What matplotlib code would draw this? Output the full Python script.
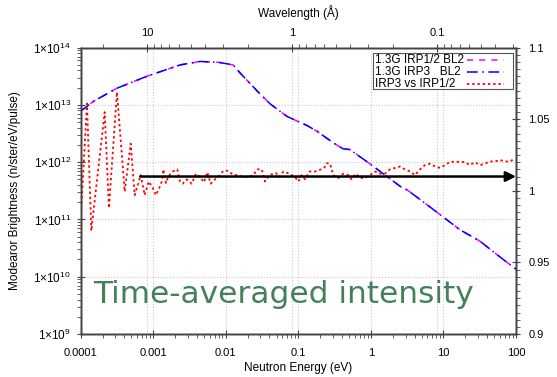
import numpy as np
import matplotlib
matplotlib.use("Agg")
import matplotlib.pyplot as plt
from matplotlib.lines import Line2D
from matplotlib.patches import Rectangle
from matplotlib.ticker import (FixedLocator, LogLocator, MultipleLocator,
                               FuncFormatter, NullFormatter)

plt.rcParams["font.family"] = ["Liberation Sans", "DejaVu Sans"]
plt.rcParams["mathtext.fontset"] = "custom"
plt.rcParams["mathtext.rm"] = "Liberation Sans"
plt.rcParams["mathtext.it"] = "Liberation Sans:italic"

# moderator brightness vs neutron energy (both configs overlap on log scale)
bright_energy = [1.00e-4, 1.49e-4, 3.13e-4, 8.13e-4, 2.34e-3, 4.41e-3, 7.94e-3,
                 1.26e-2, 1.57e-2, 2.77e-2, 4.06e-2, 6.97e-2, 0.132, 0.181,
                 0.301, 0.412, 0.515, 0.883, 1.67, 2.52, 3.12, 4.75, 8.95,
                 16.9, 31.9, 54.2, 100]
bright_irp12 = [7.8e12, 1.15e13, 1.95e13, 3.16e13, 5.0e13, 5.75e13, 5.56e13,
                5.0e13, 3.63e13, 1.70e13, 1.05e13, 6.31e12, 4.37e12, 3.47e12,
                2.19e12, 1.72e12, 1.66e12, 1.02e12, 5.62e11, 3.80e11, 3.31e11,
                2.24e11, 1.22e11, 6.61e10, 4.17e10, 2.45e10, 1.35e10]
bright_irp3 = list(bright_irp12)

# ratio IRP3 / IRP1/2
ratio_energy = [1.00e-4, 1.22e-4, 1.40e-4, 2.14e-4, 2.45e-4, 3.16e-4, 4.04e-4,
                4.89e-4, 5.55e-4, 6.71e-4, 7.62e-4, 8.65e-4, 9.82e-4, 1.09e-3,
                1.21e-3, 1.31e-3, 1.38e-3, 1.50e-3, 1.61e-3, 1.85e-3, 2.14e-3,
                2.34e-3, 2.55e-3, 2.89e-3, 3.39e-3, 3.88e-3, 4.41e-3, 5.01e-3,
                5.56e-3, 6.19e-3, 7.10e-3, 8.32e-3, 9.24e-3, 1.08e-2, 1.27e-2,
                1.49e-2, 1.74e-2, 2.04e-2, 2.39e-2, 2.72e-2, 3.13e-2, 3.47e-2,
                3.98e-2, 4.92e-2, 5.46e-2, 6.21e-2, 7.50e-2, 8.99e-2, 9.98e-2,
                0.111, 0.124, 0.142, 0.170, 0.199, 0.226, 0.246, 0.273, 0.303,
                0.356, 0.417, 0.488, 0.543, 0.623, 0.708, 0.830, 0.972, 1.14,
                1.33, 1.56, 1.83, 2.15, 2.52, 2.95, 3.46, 4.05, 4.75, 5.57,
                6.53, 7.65, 8.96, 10.5, 12.6, 14.4, 16.9, 19.8, 23.2, 27.2,
                31.9, 37.4, 43.8, 51.4, 60.2, 70.6, 82.7, 91.9]
ratio_values = [0.980, 1.061, 0.972, 1.055, 0.988, 1.069, 0.9995,
                1.033, 0.997, 1.011, 0.997, 1.0065, 1.002, 0.997,
                1.002, 1.0065, 1.015, 1.0054, 1.010, 1.0135, 1.015,
                1.0065, 1.005, 1.008, 1.005, 1.012, 1.0096, 1.006,
                1.013, 1.005, 1.008, 1.011, 1.014, 1.014, 1.011,
                1.011, 1.0096, 1.0096, 1.011, 1.015, 1.015, 1.0065,
                1.011, 1.0124, 1.0096, 1.0135, 1.012, 1.0096, 1.0065,
                1.011, 1.008, 1.0135, 1.0135, 1.0147, 1.0158, 1.0193, 1.019, 1.011,
                1.009, 1.012, 1.011, 1.008, 1.012, 1.009, 1.009, 1.011, 1.0135,
                1.012, 1.012, 1.015, 1.016, 1.017, 1.015, 1.0135, 1.011, 1.015, 1.018,
                1.019, 1.017, 1.016, 1.018, 1.0205, 1.020, 1.0205, 1.020, 1.018, 1.020,
                1.018, 1.019, 1.0205, 1.0205, 1.0216, 1.0205, 1.0205, 1.022]

arrow_start = 6.6e-4
arrow_end = 100
arrow_level = 1.01

wavelength_ticks = [10, 1, 0.1]
e_min, e_max = 1e-4, 100

legend_labels = ["1.3G IRP1/2 BL2", "1.3G IRP3   BL2", "IRP3 vs IRP1/2"]
line_colors = ["#ff00ff", "#0000ff", "#ff0000"]
line_styles = [(0, (4, 4)), (0, (7, 3, 1, 3)), (0, (1.3, 1.6))]
line_widths = [1.1, 1.1, 1.3]


def energy_to_wavelength(e):
    return 0.286 / np.sqrt(e)


def style_axis(a):
    for s in a.spines.values():
        s.set_color("#444444")
        s.set_linewidth(1.0)
    a.tick_params(which="major", direction="inout", length=6, width=0.8,
                  colors="#444444", labelcolor="black", labelsize=8, pad=4)
    a.tick_params(which="minor", direction="out", length=3, width=0.6,
                  colors="#444444")


fig = plt.figure(figsize=(5.57, 3.77), dpi=100)
ax = fig.add_axes([0.1449, 0.1141, 0.7815, 0.7594])
ax.patch.set_visible(False)

# top wavelength axis, drawn beneath the data
ax3 = ax.twiny()
ax3.set_zorder(-1)
ax3.set_xscale("log")
ax3.set_xlim(energy_to_wavelength(e_min), energy_to_wavelength(e_max))
ax3.xaxis.set_major_locator(FixedLocator(wavelength_ticks))
ax3.xaxis.set_minor_locator(LogLocator(base=10, subs=np.arange(2, 10)))
ax3.xaxis.set_major_formatter(FuncFormatter(lambda v, _: f"{v:g}"))
ax3.xaxis.set_minor_formatter(NullFormatter())
ax3.grid(True, axis="x", which="major", linestyle=":", color="#c8c8c8", linewidth=0.8)
style_axis(ax3)
ax3.set_xlabel("Wavelength (Å)", fontsize=8.5, labelpad=8)

ax.set_xscale("log")
ax.set_yscale("log")
ax.set_xlim(e_min, e_max)
ax.set_ylim(1e9, 1e14)
ax.xaxis.set_major_formatter(FuncFormatter(lambda v, _: f"{v:g}"))
ax.yaxis.set_major_formatter(FuncFormatter(lambda v, _: f"1×10$^{{{int(round(np.log10(v)))}}}$"))
ax.yaxis.set_minor_locator(LogLocator(base=10, subs=np.arange(2, 10), numticks=20))
ax.xaxis.set_minor_locator(LogLocator(base=10, subs=np.arange(2, 10), numticks=20))
ax.xaxis.set_minor_formatter(NullFormatter())
ax.yaxis.set_minor_formatter(NullFormatter())
ax.grid(True, which="major", linestyle=":", color="#c8c8c8", linewidth=0.8)
style_axis(ax)
ax.tick_params(axis="x", top=False, pad=7)
ax.tick_params(axis="y", labelsize=8.5)
ax.set_xlabel("Neutron Energy (eV)", fontsize=8.5, labelpad=3)
ax.set_ylabel("Modearor Brightness (n/ster/eV/pulse)", fontsize=8.5, labelpad=9)

l1, = ax.plot(bright_energy, bright_irp12, color=line_colors[0],
              lw=line_widths[0], ls=line_styles[0])
l2, = ax.plot(bright_energy, bright_irp3, color=line_colors[1],
              lw=line_widths[1], ls=line_styles[1])

ax2 = ax.twinx()
ax2.set_ylim(0.9, 1.1)
ax2.yaxis.set_major_locator(MultipleLocator(0.05))
ax2.yaxis.set_minor_locator(MultipleLocator(0.005))
ax2.yaxis.set_major_formatter(FuncFormatter(lambda v, _: f"{v:g}"))
style_axis(ax2)
ax2.tick_params(axis="y", pad=6)

l3, = ax2.plot(ratio_energy, ratio_values, color=line_colors[2],
               lw=line_widths[2], ls=line_styles[2])
ax2.annotate("", xy=(arrow_end, arrow_level), xytext=(arrow_start, arrow_level),
             arrowprops=dict(arrowstyle="-|>", color="black", lw=1.8,
                             mutation_scale=15, shrinkA=0, shrinkB=0))

ax2.text(0.028, 0.107, "Time-averaged intensity", transform=ax2.transAxes,
         color="#45805d", fontsize=22.5, family=["DejaVu Sans"],
         ha="left", va="baseline")

# gnuplot-style key: text left, sample on the right
ax2.add_patch(Rectangle((0.6715, 0.8557), 0.3215, 0.1258, transform=ax2.transAxes,
                        facecolor="white", edgecolor="#555555", lw=0.8, zorder=5))
row_y = [0.9555, 0.9135, 0.8730]
for i, y in enumerate(row_y):
    ax2.text(0.676, y, legend_labels[i], transform=ax2.transAxes, fontsize=8.5,
             ha="left", va="center", zorder=6)
    ax2.add_line(Line2D([0.8874, 0.9732], [y, y], transform=ax2.transAxes,
                        color=line_colors[i], lw=line_widths[i],
                        ls=line_styles[i], zorder=6))

fig.savefig("out.png", dpi=100, facecolor="white")
